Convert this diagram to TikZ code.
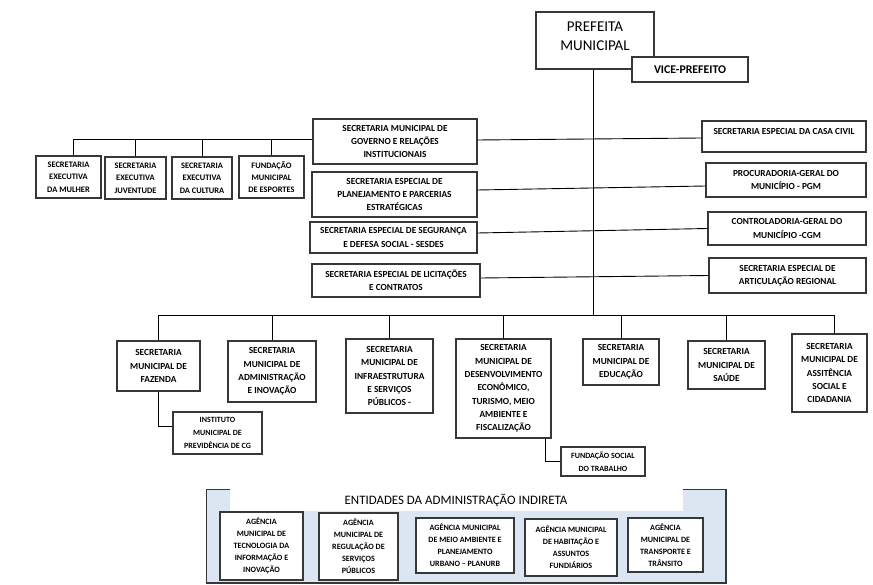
\documentclass[tikz,border=0pt]{standalone}
\usepackage{fontspec}
\setmainfont{Carlito}
\definecolor{panelfill}{RGB}{220,230,242}
\definecolor{edge}{RGB}{55,55,55}
\newcommand\orgbox[7]{\node[#1,minimum width={#5-#3},minimum height={#6-#4}] (#2) at ({(#3+#5)/2},{(#4+#6)/2}) {#7};}
\tikzset{
  box/.style={draw=edge, line width=1.1pt, fill=white, inner sep=0pt, align=center, text=black},
  fa/.style={box, font=\bfseries\fontsize{8.4}{12.3}\selectfont},
  fb/.style={box, font=\bfseries\fontsize{9.3}{13.3}\selectfont},
  fc/.style={box, font=\bfseries\fontsize{8}{12.6}\selectfont},
  fd/.style={box, font=\bfseries\fontsize{8.1}{12}\selectfont},
  plain/.style={inner sep=0pt, align=center, text=black},
  conn/.style={draw=black, line width=0.9pt},
}
\begin{document}
\begin{tikzpicture}[x=1pt,y=-1pt]
\useasboundingbox (0,0) rectangle (873,585);
% indirect administration panel
\fill[panelfill] (206,489) rectangle (726,583);
\draw[edge, line width=0.8pt] (206,489) rectangle (726,583);
\draw[edge, line width=1.6pt] (206,583) -- (726,583) -- (726,489);
\fill[white] (230,487) rectangle (683,511);
\node[plain, font=\fontsize{12.9}{15}\selectfont] (title) at (456,500.5) {ENTIDADES DA ADMINISTRAÇÃO INDIRETA};

% top
\orgbox{box}{pref}{536}{12}{654}{69}{}
\node[plain, font=\fontsize{15}{19}\selectfont] (preftext) at (595,36) {PREFEITA\\MUNICIPAL};
\orgbox{box, font=\bfseries\fontsize{11.8}{14}\selectfont}{vice}{632}{57}{748}{82}{VICE-PREFEITO}

% top-left row
\orgbox{fa}{mulher}{36}{156}{101}{198}{SECRETARIA\\EXECUTIVA\\DA MULHER}
\orgbox{fa}{juv}{105}{157}{166}{199}{SECRETARIA\\EXECUTIVA\\JUVENTUDE}
\orgbox{fa}{cult}{172}{157}{232}{199}{SECRETARIA\\EXECUTIVA\\DA CULTURA}
\orgbox{fa}{esp}{239}{156}{304}{198}{FUNDAÇÃO\\MUNICIPAL\\DE ESPORTES}

% left column
\orgbox{fb}{gov}{313}{119}{477}{164}{SECRETARIA MUNICIPAL DE\\GOVERNO E RELAÇÕES\\INSTITUCIONAIS}
\orgbox{fb}{plan}{312}{172}{477}{217}{SECRETARIA ESPECIAL DE\\PLANEJAMENTO E PARCERIAS\\ESTRATÉGICAS}
\orgbox{fb}{seg}{310}{222}{477}{253}{SECRETARIA ESPECIAL DE SEGURANÇA\\E DEFESA SOCIAL - SESDES}
\orgbox{fb}{lic}{312}{264}{480}{297}{SECRETARIA ESPECIAL DE LICITAÇÕES\\E CONTRATOS}

% right column
\orgbox{fb}{casa}{702}{121}{866}{152}{}
\node[plain, font=\bfseries\fontsize{9.3}{13.3}\selectfont] (casatext) at (784,131) {SECRETARIA ESPECIAL DA CASA CIVIL};
\orgbox{fb}{pgm}{706}{163}{866}{197}{PROCURADORIA-GERAL DO\\MUNICÍPIO - PGM}
\orgbox{fb}{cgm}{708}{212}{866}{245}{CONTROLADORIA-GERAL DO\\MUNICÍPIO -CGM}
\orgbox{fb}{art}{709}{258}{866}{293}{SECRETARIA ESPECIAL DE\\ARTICULAÇÃO REGIONAL}

% bottom row
\orgbox{fb}{faz}{117}{341}{200}{391}{SECRETARIA\\MUNICIPAL DE\\FAZENDA}
\orgbox{fb}{adm}{228}{341}{316}{402}{SECRETARIA\\MUNICIPAL DE\\ADMINISTRAÇÃO\\E INOVAÇÃO}
\orgbox{fb}{infra}{346}{339}{433}{413}{SECRETARIA\\MUNICIPAL DE\\INFRAESTRUTURA\\E SERVIÇOS\\PÚBLICOS -}
\orgbox{fb}{des}{456}{339}{551}{438}{SECRETARIA\\MUNICIPAL DE\\DESENVOLVIMENTO\\ECONÔMICO,\\TURISMO, MEIO\\AMBIENTE E\\FISCALIZAÇÃO}
\orgbox{fb}{edu}{583}{339}{659}{385}{SECRETARIA\\MUNICIPAL DE\\EDUCAÇÃO}
\orgbox{fb}{sau}{688}{341}{765}{389}{SECRETARIA\\MUNICIPAL DE\\SAÚDE}
\orgbox{fb}{ass}{792}{334}{867}{412}{SECRETARIA\\MUNICIPAL DE\\ASSITÊNCIA\\SOCIAL E\\CIDADANIA}
\orgbox{fc}{inst}{173}{412}{262}{454}{INSTITUTO\\MUNICIPAL DE\\PREVIDÊNCIA DE CG}
\orgbox{fc}{fund}{561}{447}{645}{476}{FUNDAÇÃO SOCIAL\\DO TRABALHO}

% agencies
\orgbox{fd}{ag1}{220}{512}{303}{580}{AGÊNCIA\\MUNICIPAL DE\\TECNOLOGIA DA\\INFORMAÇÃO E\\INOVAÇÃO}
\orgbox{fd}{ag2}{319}{513}{398}{580}{AGÊNCIA\\MUNICIPAL DE\\REGULAÇÃO DE\\SERVIÇOS\\PÚBLICOS}
\orgbox{fd}{ag3}{416}{518}{514}{573}{AGÊNCIA MUNICIPAL\\DE MEIO AMBIENTE E\\PLANEJAMENTO\\URBANO – PLANURB}
\orgbox{fd}{ag4}{525}{519}{617}{576}{AGÊNCIA MUNICIPAL\\DE HABITAÇÃO E\\ASSUNTOS\\FUNDIÁRIOS}
\orgbox{fd}{ag5}{628}{518}{703}{572}{AGÊNCIA\\MUNICIPAL DE\\TRANSPORTE E\\TRÂNSITO}

% connectors
\coordinate (bus) at (593,315);
\coordinate (tlbus) at (73,139);
\draw[conn] ([xshift=-2]pref.south) -- (bus);
\draw[conn] (faz.north |- bus) -- ([xshift=5]ass.north |- bus);
\foreach \n in {faz,adm,infra,des,edu,sau}{\draw[conn] (\n.north) -- (\n.north |- bus);}
\draw[conn] ([xshift=5]ass.north) -- ([xshift=5]ass.north |- bus);
\draw[conn] (faz.south) |- ([yshift=7]inst.west);
\draw[conn] ([xshift=-6]des.south east) |- (fund.west);
% top-left group
\draw[conn] (gov.west |- tlbus) -- ([xshift=4.5]mulher.north |- tlbus) -- ([xshift=4.5]mulher.north);
\foreach \n in {juv,cult,esp}{\draw[conn] (\n.north) -- (\n.north |- tlbus);}
% left to right links
\draw[conn] ([yshift=1.5]gov.east) -- ([yshift=-1.5]casa.west);
\draw[conn] ([yshift=4.5]plan.east) -- ([yshift=-6]pgm.west);
\draw[conn] ([yshift=4.5]seg.east) -- (cgm.west);
\draw[conn] ([yshift=2.5]lic.east) -- (art.west);
\end{tikzpicture}
\end{document}
